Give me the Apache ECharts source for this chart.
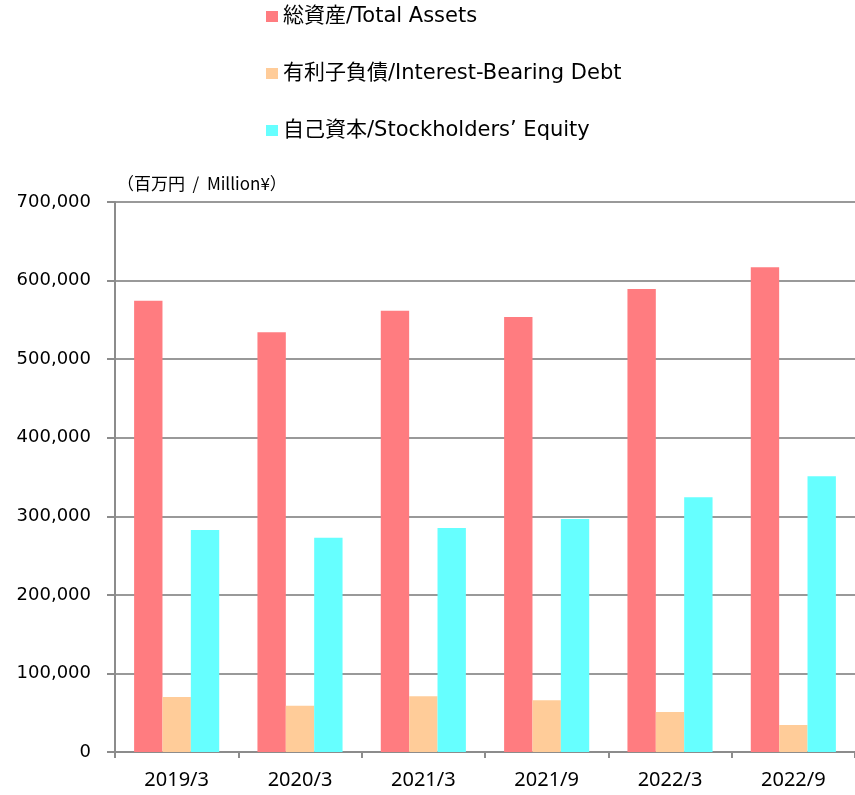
<!DOCTYPE html>
<html>
<head>
<meta charset="utf-8">
<script src="https://cdn.jsdelivr.net/npm/echarts@6/dist/echarts.min.js"></script>
<style>
  html, body { margin: 0; padding: 0; background: #fff; }
  #chart { width: 855px; height: 795px; }
</style>
</head>
<body>
<div id="chart"></div>
<script>
  // 期間
  const periods = ['2019/3', '2020/3', '2021/3', '2021/9', '2022/3', '2022/9'];
  const seriesNames = ['総資産/Total Assets', '有利子負債/Interest-Bearing Debt', '自己資本/Stockholders\u2019 Equity'];
  const totalAssets = [574400, 534200, 561700, 553600, 589300, 616900];
  const interestDebt = [70000, 58900, 70900, 65800, 50900, 34400];
  const equity = [282500, 272800, 285100, 296500, 324100, 350900];
  const colors = ['#FF7C80', '#FFCC99', '#66FFFF'];

  const myChart = echarts.init(document.getElementById('chart'));
  const jpFont = '"DejaVu Sans", "Noto Sans CJK JP", sans-serif';

  const option = {
    color: colors,
    animation: false,
    title: {
      text: '（百万円  /  Million¥）',
      left: 112,
      top: 170,
      textStyle: { fontSize: 17, fontWeight: 'normal', color: '#000', fontFamily: '"Noto Sans CJK JP", sans-serif' }
    },
    legend: {
      orient: 'vertical',
      left: 261,
      top: 1,
      itemGap: 36,
      itemWidth: 12,
      itemHeight: 11,
      icon: 'rect',
      textStyle: { fontSize: 21, color: '#000', fontFamily: jpFont },
      data: seriesNames
    },
    grid: {
      left: 115,
      right: -7,
      top: 202,
      bottom: 43
    },
    xAxis: {
      type: 'category',
      data: periods,
      axisLine: { lineStyle: { color: '#8c8c8c', width: 2 } },
      axisTick: { show: true, length: 6, lineStyle: { color: '#8c8c8c', width: 2 } },
      axisLabel: { fontSize: 20, color: '#000', margin: 18, fontFamily: '"Noto Sans", sans-serif' }
    },
    yAxis: {
      type: 'value',
      min: 0,
      max: 700000,
      interval: 100000,
      axisLine: { show: true, lineStyle: { color: '#8c8c8c', width: 2 } },
      axisTick: { show: true, length: 8, lineStyle: { color: '#8c8c8c', width: 2 } },
      splitLine: { lineStyle: { color: '#999', width: 2 } },
      axisLabel: {
        fontSize: 18,
        color: '#000',
        margin: 24,
        fontFamily: '"DejaVu Sans", sans-serif',
        formatter: function (v) { return v.toLocaleString('en-US'); }
      }
    },
    series: []
  };

  const values = [totalAssets, interestDebt, equity];
  for (let i = 0; i < seriesNames.length; i++) {
    option.series.push({
      name: seriesNames[i],
      type: 'bar',
      data: values[i],
      barGap: '0%',
      barCategoryGap: '31%'
    });
  }

  myChart.setOption(option);
</script>
</body>
</html>
